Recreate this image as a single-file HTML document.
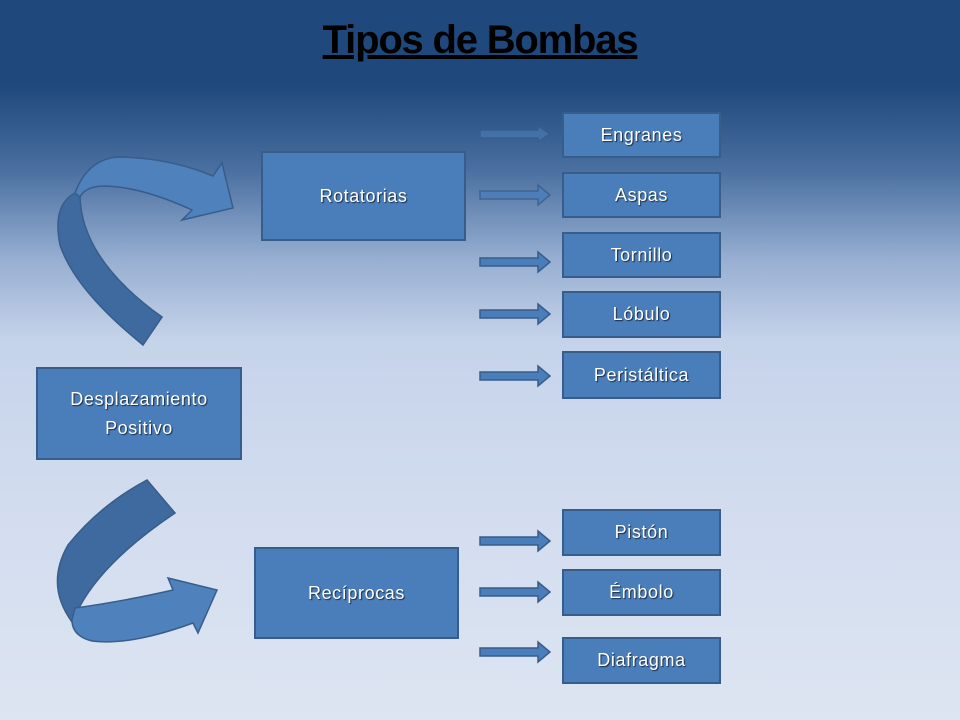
<!DOCTYPE html>
<html><head><meta charset="utf-8"><style>
body{margin:0;width:960px;height:720px;overflow:hidden;font-family:"Liberation Sans",sans-serif;
background:linear-gradient(to bottom,#1f487c 0px,#1f487c 85px,#4a6fa0 170px,#97afd2 260px,#c5d3ea 340px,#d3ddef 520px,#dde5f2 720px);position:relative}
.t{position:absolute;left:0;width:960px;top:18px;text-align:center;font-size:40px;font-weight:bold;text-decoration:underline;color:#000;letter-spacing:-1.2px}
.b{position:absolute;background:#4a7ebb;border:2px solid #385d8a;box-sizing:border-box;color:#fff;display:flex;align-items:center;justify-content:center;text-align:center;font-size:18px;line-height:29px;letter-spacing:0.6px;text-shadow:1px 1px 1px #1a2a40}
.s{font-size:18px}
svg{position:absolute;left:0;top:0}
</style></head><body>
<div class="t">Tipos de Bombas</div>
<svg width="960" height="720">
<g stroke="#385d8a" stroke-width="1.5">
<path d="M143,345 Q75,290 60,245 Q52,205 75,193 L80,197 Q82,260 162,317 Z" fill="#3e6aa0"/>
<path d="M75,193 Q88,158 120,157 Q170,158 213,176 L222,163 L233,208 L182,220 L192,210 Q140,186 102,186 Q85,187 80,197 Z" fill="#4f81bd"/>
<path d="M147,480 L175,513 Q105,560 80,606 L72,622 Q45,585 68,545 Q100,505 147,480 Z" fill="#3e6aa0"/>
<path d="M75,608 Q120,602 173,590 L168,578 L217,590 L198,633 L193,623 Q130,646 92,641 Q72,636 72,620 Z" fill="#4f81bd"/>
</g>
<g fill="#4a7ebb" stroke="#385d8a" stroke-width="1.5">
<path d="M480,130 L538,130 L538,126 L550,134 L538,142 L538,138 L480,138 Z" opacity="0.6"/>
<path d="M480,191 L538,191 L538,185 L550,195 L538,205 L538,199 L480,199 Z" opacity="0.8"/>
<path d="M480,258 L538,258 L538,252 L550,262 L538,272 L538,266 L480,266 Z"/>
<path d="M480,310 L538,310 L538,304 L550,314 L538,324 L538,318 L480,318 Z"/>
<path d="M480,372 L538,372 L538,366 L550,376 L538,386 L538,380 L480,380 Z"/>
<path d="M480,537 L538,537 L538,531 L550,541 L538,551 L538,545 L480,545 Z"/>
<path d="M480,588 L538,588 L538,582 L550,592 L538,602 L538,596 L480,596 Z"/>
<path d="M480,648 L538,648 L538,642 L550,652 L538,662 L538,656 L480,656 Z"/>
</g>
</svg>
<div class="b" style="left:261px;top:151px;width:205px;height:90px">Rotatorias</div>
<div class="b" style="left:36px;top:367px;width:206px;height:93px">Desplazamiento<br>Positivo</div>
<div class="b" style="left:254px;top:547px;width:205px;height:92px">Recíprocas</div>
<div class="b s" style="left:562px;top:112px;width:159px;height:46px">Engranes</div>
<div class="b s" style="left:562px;top:172px;width:159px;height:46px">Aspas</div>
<div class="b s" style="left:562px;top:232px;width:159px;height:46px">Tornillo</div>
<div class="b s" style="left:562px;top:291px;width:159px;height:47px">Lóbulo</div>
<div class="b s" style="left:562px;top:351px;width:159px;height:48px">Peristáltica</div>
<div class="b s" style="left:562px;top:509px;width:159px;height:47px">Pistón</div>
<div class="b s" style="left:562px;top:569px;width:159px;height:47px">Émbolo</div>
<div class="b s" style="left:562px;top:637px;width:159px;height:47px">Diafragma</div>
</body></html>
